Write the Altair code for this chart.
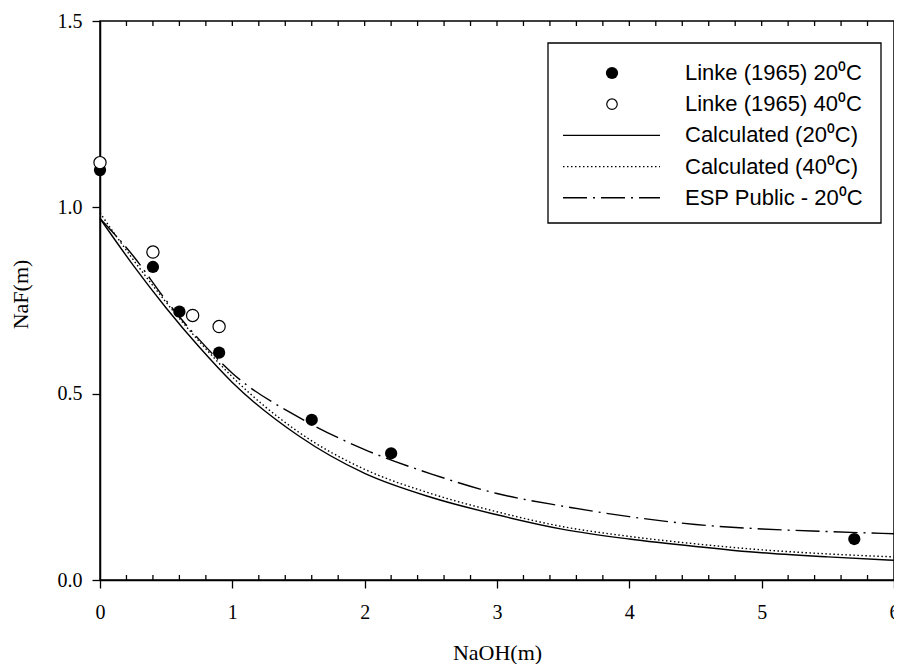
import altair as alt
import pandas as pd

# ---- data ----
linke20_x = [0.0, 0.4, 0.6, 0.9, 1.6, 2.2, 5.7]
linke20_y = [1.10, 0.84, 0.72, 0.61, 0.43, 0.34, 0.11]
linke40_x = [0.0, 0.4, 0.7, 0.9]
linke40_y = [1.12, 0.88, 0.71, 0.68]

curve_x = [0, 0.25, 0.5, 0.75, 1, 1.5, 2, 2.5, 3, 3.5, 4, 4.5, 5, 5.5, 6]
calc20_y = [0.97, 0.845, 0.73, 0.625, 0.53, 0.387, 0.286, 0.222, 0.175, 0.136, 0.11, 0.09, 0.073, 0.062, 0.053]
calc40_y = [0.985, 0.86, 0.745, 0.64, 0.545, 0.397, 0.297, 0.232, 0.183, 0.143, 0.117, 0.097, 0.081, 0.07, 0.062]
esp20_y = [0.97, 0.87, 0.75, 0.645, 0.555, 0.437, 0.35, 0.285, 0.232, 0.198, 0.17, 0.149, 0.137, 0.13, 0.124]

x_major = [0, 1, 2, 3, 4, 5, 6]
y_major = [0.0, 0.5, 1.0, 1.5]
minor_step_count = 30  # ticks every 0.2 on 0..6

legend_labels = [
    "Linke (1965) 20\u2070C",
    "Linke (1965) 40\u2070C",
    "Calculated (20\u2070C)",
    "Calculated (40\u2070C)",
    "ESP Public - 20\u2070C",
]

W, H = 794, 559
LEFT = 92
SERIF = "Liberation Serif"
SANS = "Liberation Sans"

xs = alt.Scale(domain=[0, 6], nice=False, zero=False)
ys = alt.Scale(domain=[0, 1.5], nice=False, zero=False)

df20 = pd.DataFrame({"x": linke20_x, "y": linke20_y})
df40 = pd.DataFrame({"x": linke40_x, "y": linke40_y})
dfc20 = pd.DataFrame({"x": curve_x, "y": calc20_y})
dfc40 = pd.DataFrame({"x": curve_x, "y": calc40_y})
dfesp = pd.DataFrame({"x": curve_x, "y": esp20_y})

minor_all = [round(i * 0.2, 1) for i in range(1, minor_step_count)]
minor_bottom = [v for v in minor_all if abs(v - round(v)) > 1e-9]
df_minor_bottom = pd.DataFrame({"x": minor_bottom})
df_minor_top = pd.DataFrame({"x": minor_all})

x_enc = alt.X(
    "x:Q", scale=xs,
    axis=alt.Axis(values=x_major, format="d", title="NaOH(m)", grid=False,
                  tickSize=8, labelPadding=14, titleBaseline="alphabetic",
                  titleY=79, titleAnchor="middle"),
)
y_enc = alt.Y(
    "y:Q", scale=ys,
    axis=alt.Axis(values=y_major, format=".1f", title="NaF(m)", grid=False,
                  tickSize=8, labelPadding=10, titleX=-73, titleY=273,
                  titleAngle=-90, titleBaseline="alphabetic", titleAlign="center"),
)

line_common = dict(color="black", strokeWidth=1.4, interpolate="monotone")

calc20 = alt.Chart(dfc20).mark_line(**line_common).encode(x=x_enc, y=y_enc)
calc40 = alt.Chart(dfc40).mark_line(strokeDash=[1.5, 2.5], **line_common).encode(
    x=alt.X("x:Q", scale=xs), y=alt.Y("y:Q", scale=ys))
esp = alt.Chart(dfesp).mark_line(strokeDash=[24, 6, 2, 6], **line_common).encode(
    x=alt.X("x:Q", scale=xs), y=alt.Y("y:Q", scale=ys))

pts20 = alt.Chart(df20).mark_point(shape="circle", filled=True, color="black",
                                    size=150, opacity=1).encode(
    x=alt.X("x:Q", scale=xs), y=alt.Y("y:Q", scale=ys))
pts40 = alt.Chart(df40).mark_point(shape="circle", fill="white", stroke="black",
                                    strokeWidth=1.2, size=150, opacity=1,
                                    fillOpacity=1).encode(
    x=alt.X("x:Q", scale=xs), y=alt.Y("y:Q", scale=ys))

minor_b = alt.Chart(df_minor_bottom).mark_rule(color="black", strokeWidth=1.3).encode(
    x=alt.X("x:Q", scale=xs), y=alt.value(H), y2=alt.value(H - 5))
minor_t = alt.Chart(df_minor_top).mark_rule(color="black", strokeWidth=1.3).encode(
    x=alt.X("x:Q", scale=xs), y=alt.value(0), y2=alt.value(5))

# ---- legend (drawn manually inside the plot) ----
box = alt.Chart(pd.DataFrame({"a": [0]})).mark_rect(
    fill="white", stroke="black", strokeWidth=1.3).encode(
    x=alt.value(448), x2=alt.value(781), y=alt.value(22), y2=alt.value(202))

row_y = [52 + 31.2 * i for i in range(5)]
leg_layers = [box]
for i, lab in enumerate(legend_labels):
    leg_layers.append(
        alt.Chart(pd.DataFrame({"t": [lab]})).mark_text(
            align="left", baseline="middle", font=SANS, fontSize=22, color="black").encode(
            text="t:N", x=alt.value(585), y=alt.value(row_y[i]))
    )
one = pd.DataFrame({"a": [0]})
leg_layers.append(alt.Chart(one).mark_point(shape="circle", filled=True, color="black",
                                             size=150, opacity=1).encode(
    x=alt.value(512), y=alt.value(row_y[0])))
leg_layers.append(alt.Chart(one).mark_point(shape="circle", fill="white", stroke="black",
                                             strokeWidth=1.2, size=110, opacity=1,
                                             fillOpacity=1).encode(
    x=alt.value(512), y=alt.value(row_y[1])))
leg_layers.append(alt.Chart(one).mark_rule(color="black", strokeWidth=1.4).encode(
    x=alt.value(463), x2=alt.value(560), y=alt.value(row_y[2])))
leg_layers.append(alt.Chart(one).mark_rule(color="black", strokeWidth=1.4,
                                            strokeDash=[1.5, 2.5]).encode(
    x=alt.value(463), x2=alt.value(560), y=alt.value(row_y[3])))
leg_layers.append(alt.Chart(one).mark_rule(color="black", strokeWidth=1.4,
                                            strokeDash=[24, 6, 2, 6]).encode(
    x=alt.value(463), x2=alt.value(560), y=alt.value(row_y[4])))

chart = alt.layer(
    calc20, calc40, esp, minor_b, minor_t, pts20, pts40, *leg_layers
).properties(
    width=W, height=H,
    autosize=alt.AutoSizeParams(type="none"),
    padding={"left": LEFT, "top": 13, "right": 0, "bottom": 84},
    background="white",
).configure_view(
    stroke="black", strokeWidth=1.5
).configure_axis(
    labelFont=SERIF, titleFont=SERIF, labelFontSize=20, titleFontSize=22,
    labelColor="black", titleColor="black", titleFontWeight="normal",
    tickColor="black", domainColor="black", tickWidth=1.3, domainWidth=1.5,
    labelFlush=False, labelOverlap=False,
)

chart.save("out.html", embed_options={"renderer": "svg", "actions": False})
